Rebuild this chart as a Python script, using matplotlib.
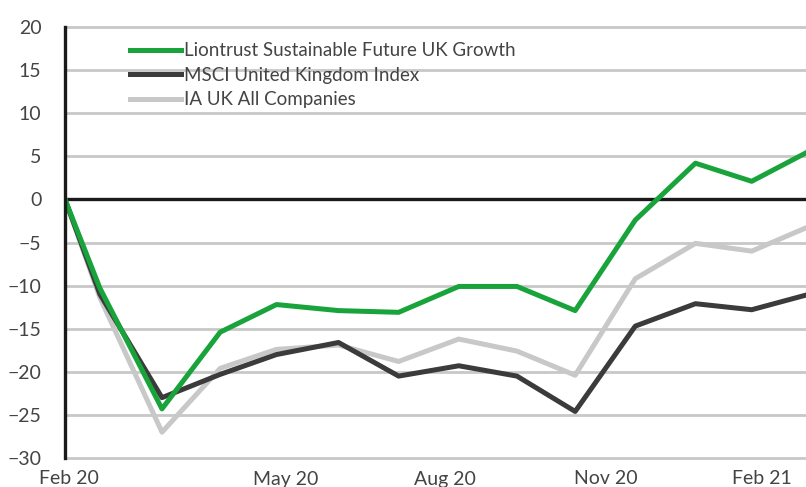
import matplotlib
matplotlib.use('Agg')
import matplotlib.pyplot as plt
import numpy as np
import pandas as pd

dates = pd.to_datetime(['2020-02-10', '2020-02-28', '2020-03-31', '2020-04-30', '2020-05-29',
                        '2020-06-30', '2020-07-31', '2020-08-31', '2020-09-30', '2020-10-30',
                        '2020-11-30', '2020-12-31', '2021-01-29', '2021-02-26'])
liontrust = [0, -10.3, -24.3, -15.4, -12.2, -12.9, -13.1, -10.1, -10.1, -12.9, -2.4, 4.2, 2.1, 5.4]
msci = [0, -11.0, -23.0, -20.3, -18.0, -16.6, -20.5, -19.3, -20.5, -24.6, -14.7, -12.1, -12.8, -11.1]
ia_uk = [0, -11.4, -27.0, -19.6, -17.4, -16.9, -18.8, -16.2, -17.6, -20.4, -9.2, -5.1, -6.0, -3.3]

tick_dates = pd.to_datetime(['2020-02-12', '2020-06-03', '2020-08-24', '2020-11-15', '2021-02-03'])
tick_labels = ['Feb 20', 'May 20', 'Aug 20', 'Nov 20', 'Feb 21']
y_ticks = np.arange(-30, 21, 5)

plt.rcParams['font.family'] = ['Lato', 'DejaVu Sans']

fig = plt.figure(figsize=(8.06, 4.87), dpi=100)
ax = fig.add_axes([65 / 806, 29 / 487, 741 / 806, 431 / 487])

for y in y_ticks:
    if y != 0:
        ax.axhline(y, color='#c8c8c8', lw=2.0, zorder=1, clip_on=False)
ax.axhline(0, color='#1a1a1a', lw=2.4, zorder=2)

ax.plot(dates, ia_uk, color='#c8c8c8', lw=3.6, label='IA UK All Companies', zorder=3)
ax.plot(dates, msci, color='#3b3b3b', lw=3.6, label='MSCI United Kingdom Index', zorder=4)
ax.plot(dates, liontrust, color='#19a33b', lw=3.6, label='Liontrust Sustainable Future UK Growth', zorder=5)

ax.set_xlim(dates[0], dates[-1])
ax.set_ylim(-30, 20)
ax.set_yticks(y_ticks)
ax.set_xticks(tick_dates)
ax.set_xticklabels(tick_labels)
ax.tick_params(axis='both', length=0, labelsize=14, colors='#444444')
ax.tick_params(axis='y', pad=17)
ax.tick_params(axis='x', pad=9)

for s in ['top', 'right', 'bottom']:
    ax.spines[s].set_visible(False)
ax.spines['left'].set_color('#1a1a1a')
ax.spines['left'].set_linewidth(2.4)
ax.spines['left'].set_zorder(6)

handles, labels = ax.get_legend_handles_labels()
leg = ax.legend(handles[::-1], labels[::-1], loc='upper left', bbox_to_anchor=(0.077, 0.982),
                frameon=False, fontsize=13.5, handlelength=2.75, handletextpad=0.15,
                labelspacing=0.40, borderaxespad=0)
for t in leg.get_texts():
    t.set_color('#444444')

fig.savefig('out.png', dpi=100)
